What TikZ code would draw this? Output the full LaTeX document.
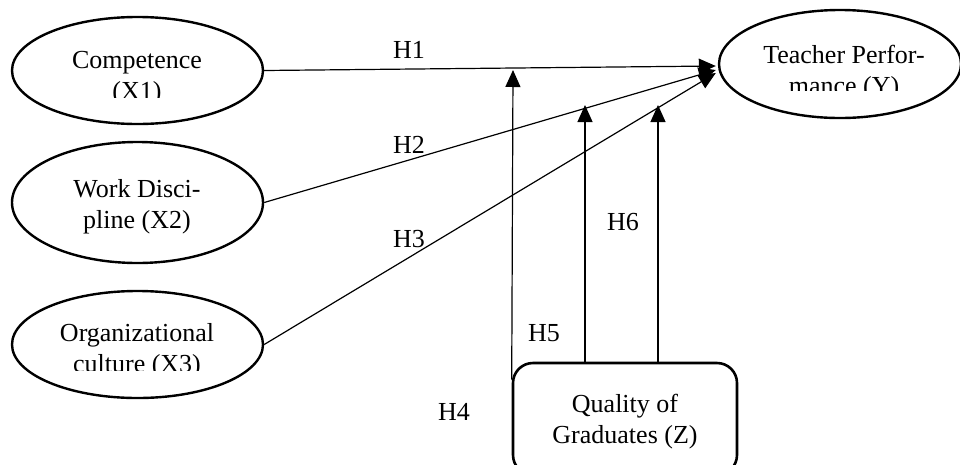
\documentclass[tikz,border=0pt]{standalone}
\usepackage{fontspec}
\setmainfont{Liberation Serif}
\usetikzlibrary{arrows.meta,shapes.geometric,calc}
\begin{document}
\begin{tikzpicture}[x=1pt,y=-1pt,
  oval/.style={draw,ellipse,line width=2.4pt,inner sep=0pt},
  txt/.style={align=center,inner sep=0pt,font=\fontsize{26}{31}\selectfont},
  hlab/.style={anchor=base,inner sep=0pt,font=\fontsize{26}{31}\selectfont},
  arr/.style={line width=1.2pt,-{Triangle[length=17pt,width=15pt]}},
  zbox/.style={draw,rounded corners=20pt,line width=2.6pt,minimum width=224pt,minimum height=112pt,inner sep=0pt}]
\useasboundingbox (0,0) rectangle (960,464);
% nodes
\node[oval,minimum width=251pt,minimum height=107pt] (X1) at (137.5,70.5) {};
\node[oval,minimum width=251pt,minimum height=121pt] (X2) at (137.5,202.5) {};
\node[oval,minimum width=251pt,minimum height=107pt] (X3) at (137.5,344.5) {};
\node[oval,minimum width=242pt,minimum height=108pt] (Y) at (840,64) {};
\node[zbox] (Z) at (625,419) {};
% texts (clipped as in the original)
\begin{scope}
\clip (0,0) rectangle (300,97);
\node[txt] (tX1) at (137,78.4) {Competence\\(X1)};
\end{scope}
\node[txt] (tX2) at (137,206.4) {Work Disci-\\pline (X2)};
\begin{scope}
\clip (0,280) rectangle (300,370);
\node[txt] (tX3) at (137,350.4) {Organizational\\culture (X3)};
\end{scope}
\begin{scope}
\clip (700,0) rectangle (960,90);
\node[txt] (tY) at (844,72.4) {Teacher Perfor-\\mance (Y)};
\end{scope}
\node[txt] (tZ) at (625,421.4) {Quality of\\Graduates (Z)};
% free ends of the vertical arrows
\coordinate (t4) at (513,70);
\coordinate (t5) at (585,105);
\coordinate (t6) at (658,105);
% connectors
\draw[arr] (X1.east) -- ($(Y.west)+(-2,2)$);
\draw[arr] (X2.east) -- ($(Y.west)+(-2,6)$);
\draw[arr] (X3.east) -- ($(Y.west)+(-2,9)$);
\draw[arr] ($(Z.north west)+(0,18)$) -- (t4);
\draw[arr] (Z.north -| t5) -- (t5);
\draw[arr] (Z.north -| t6) -- (t6);
% labels
\node[hlab] (H1) at (409,58) {H1};
\node[hlab] (H2) at (409,153) {H2};
\node[hlab] (H3) at (409,247) {H3};
\node[hlab] (H4) at (454,420) {H4};
\node[hlab] (H5) at (544,341) {H5};
\node[hlab] (H6) at (623,230) {H6};
\end{tikzpicture}
\end{document}
